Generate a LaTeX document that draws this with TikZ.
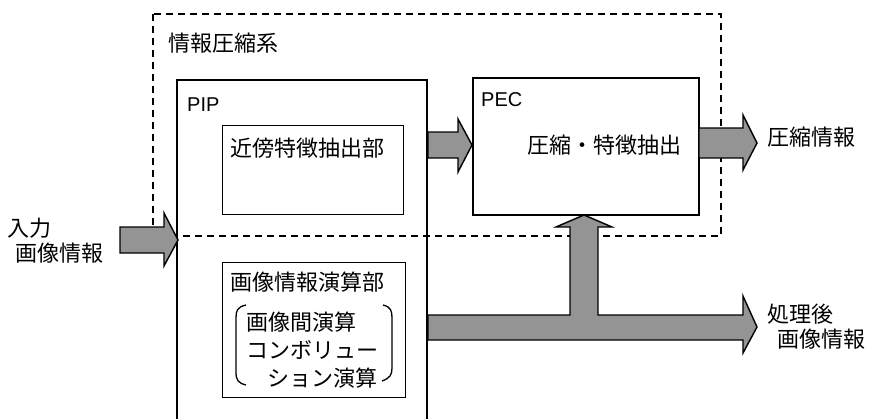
\documentclass[tikz,border=0pt]{standalone}
\usepackage{fontspec}
\setmainfont{Noto Sans CJK JP}
\newfontfamily\lat{Liberation Sans}
\begin{document}
\begin{tikzpicture}[x=1pt,y=-1pt,
  jp/.style={font=\fontsize{22}{24}\selectfont, anchor=west, inner sep=0pt},
  la/.style={font=\lat\fontsize{20}{22}\selectfont, anchor=west, inner sep=0pt},
  bigbox/.style={draw, line width=2pt, anchor=north west, inner sep=0pt},
  smallbox/.style={draw, line width=0.8pt, anchor=north west, inner sep=0pt},
  sysline/.style={line width=1.3pt, dash pattern=on 7pt off 5pt},
  barrow/.style={draw, line width=1.4pt, fill=black!42, line join=miter},
  brk/.style={line width=1.3pt}]
\useasboundingbox (0,0) rectangle (870,418);
% compression system (dashed)
\draw[sysline] (153,14) rectangle (721,236);
\node[jp] (sys) at (168,43) {情報圧縮系};
% PIP
\draw[line width=2pt] (177,425) -- (177,80) coordinate (pipnw) -- (427,80) -- (427,425);
\node[la] (pip) at (187,105) {PIP};
\node[smallbox, minimum width=181pt, minimum height=89pt] (near) at (222,125) {};
\node[jp] (nearT) at (230,148) {近傍特徴抽出部};
\node[smallbox, minimum width=183pt, minimum height=135pt] (calc) at (222,262) {};
\node[jp] (calcT) at (230,282) {画像情報演算部};
\node[jp] (c1) at (246,322) {画像間演算};
\node[jp] (c2) at (246,350) {コンボリュー};
\node[jp] (c3) at (267,378) {ション演算};
\draw[brk] (246,305) .. controls (237,307) and (236,311) .. (236,318) -- (236,372) .. controls (236,380) and (238,383) .. (246,385);
\draw[brk] (383,305) .. controls (391,307) and (392,311) .. (392,318) -- (392,368) .. controls (392,375) and (390,378) .. (382,381);
% PEC
\node[bigbox, minimum width=226pt, minimum height=137pt] (pec) at (472,77) {};
\node[la] (pecT) at (481,100) {PEC};
\node[jp] (pecC) at (527,145) {圧縮・特徴抽出};
% outside labels
\node[jp] (in1) at (7,228) {入力};
\node[jp] (in2) at (15,253) {画像情報};
\node[jp] (out1) at (767,137) {圧縮情報};
\node[jp] (out2a) at (767,314) {処理後};
\node[jp] (out2b) at (777,339) {画像情報};
% block arrows
\draw[barrow] (120,227) -- (164,227) -- (164,213) -- (178,240) -- (164,266) -- (164,253) -- (120,253) -- cycle;
\draw[barrow] (428,132) -- (458,132) -- (458,119) -- (472,145) -- (458,172) -- (458,158) -- (428,158) -- cycle;
\draw[barrow] (699,128) -- (743,128) -- (743,115) -- (757,143) -- (743,170) -- (743,158) -- (699,158) -- cycle;
\draw[barrow] (428,315) -- (570,315) -- (570,227) -- (556,227) -- (584,215) -- (612,227) -- (598,227) -- (598,315)
  -- (743,315) -- (743,296) -- (757,327) -- (743,353) -- (743,340) -- (428,340) -- cycle;
\end{tikzpicture}
\end{document}
